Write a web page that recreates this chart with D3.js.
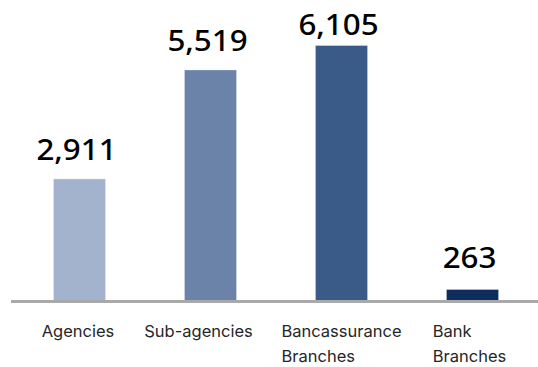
<!DOCTYPE html>
<html>
<head>
<meta charset="utf-8">
<script src="https://cdn.jsdelivr.net/npm/d3@7"></script>
<style>
  html, body { margin: 0; padding: 0; background: #ffffff; }
  svg { display: block; }
</style>
</head>
<body>
<svg id="chart" width="538" height="367"></svg>
<script>
// Distribution network: number of outlets per channel
const categories = ["Agencies", "Sub-agencies", "Bancassurance Branches", "Bank Branches"];
const values = [2911, 5519, 6105, 263];
const barColors = ["#a3b3ce", "#6b83a9", "#3a5a88", "#0c2d5e"];
// distance from bar top to the value label baseline
const labelGap = [18, 18, 10, 21];
// horizontal nudge of each category label block
const labelShift = [-1.5, -12, 0, -3];

const width = 538, height = 367;
const baseY = 300;

const svg = d3.select("#chart");

const x = d3.scaleBand()
  .domain(categories)
  .range([14, 538])
  .paddingInner(0.595)
  .paddingOuter(0.2975);

const y = d3.scaleLinear()
  .domain([0, d3.max(values)])
  .range([baseY, 45]);

const data = categories.map((c, i) => ({
  cat: c, value: values[i], color: barColors[i], gap: labelGap[i], shift: labelShift[i]
}));

// bars
svg.append("g")
  .selectAll("rect")
  .data(data)
  .join("rect")
  .attr("x", d => x(d.cat) + 0.5)
  .attr("y", d => y(d.value) + 0.5)
  .attr("width", x.bandwidth() - 1)
  .attr("height", d => baseY - y(d.value))
  .attr("fill", d => d.color)
  .attr("stroke", "rgba(255,255,255,0.3)")
  .attr("stroke-width", 1);

// baseline
svg.append("line")
  .attr("x1", 11)
  .attr("x2", width)
  .attr("y1", baseY + 1.5)
  .attr("y2", baseY + 1.5)
  .attr("stroke", "#a9a9a9")
  .attr("stroke-width", 3);

// value labels, digits slightly widened
const fmt = d3.format(",");
svg.append("g")
  .selectAll("text")
  .data(data)
  .join("text")
  .attr("transform", d => `translate(${x(d.cat) + x.bandwidth() / 2 - 3},${y(d.value) - d.gap}) scale(1.08,1)`)
  .attr("text-anchor", "middle")
  .attr("font-family", "'Noto Sans', sans-serif")
  .attr("font-size", 29)
  .attr("font-weight", 500)
  .attr("fill", "#000000")
  .text(d => fmt(d.value));

// category labels: block centred under the bar, lines left-aligned
const catG = svg.append("g")
  .selectAll("g")
  .data(data)
  .join("g");

catG.each(function (d) {
  const g = d3.select(this);
  const lines = d.cat.split(" ");
  const t = g.append("text")
    .attr("font-family", "Inter, 'Open Sans', sans-serif")
    .attr("font-size", 16.5)
    .attr("fill", "#262626");
  lines.forEach((ln, i) => {
    t.append("tspan")
      .attr("x", 0)
      .attr("y", 337 + i * 25)
      .text(ln);
  });
  const w = t.node().getBBox().width;
  t.attr("transform", `translate(${x(d.cat) + x.bandwidth() / 2 - w / 2 + d.shift},0)`);
});
</script>
</body>
</html>
